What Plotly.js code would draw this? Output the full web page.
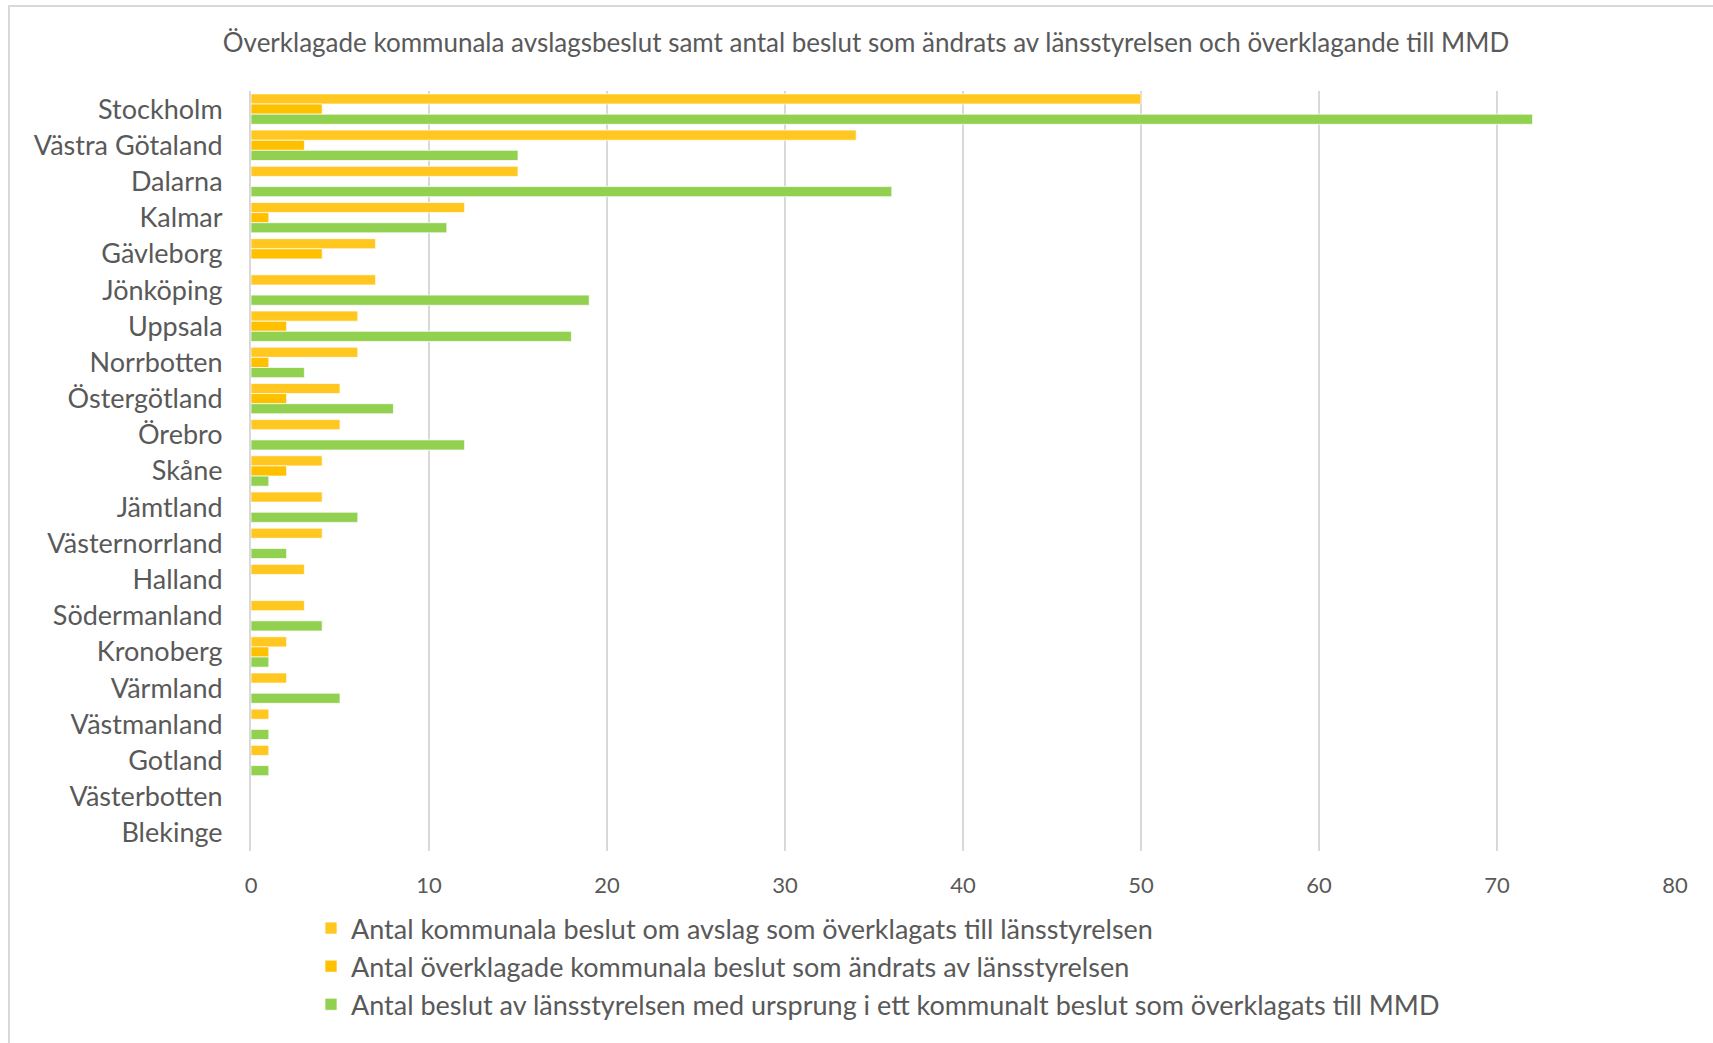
<!DOCTYPE html>
<html>
<head>
<meta charset="utf-8">
<script src="https://cdn.plot.ly/plotly-3.0.1.min.js"></script>
<style>
  html, body { margin: 0; padding: 0; background: #fff; overflow: hidden; }
  #frame { position: absolute; left: 8px; top: 5px; width: 1800px; height: 1100px; border: 2px solid #d9d9d9; box-sizing: border-box; }
  #chart { position: absolute; left: 0; top: 0; width: 1713px; height: 1043px; }
</style>
</head>
<body>
<div id="frame"></div>
<div id="chart"></div>
<script>
// lan (top to bottom as in the chart)
var lan = ["Stockholm", "Västra Götaland", "Dalarna", "Kalmar", "Gävleborg", "Jönköping",
    "Uppsala", "Norrbotten", "Östergötland", "Örebro", "Skåne", "Jämtland", "Västernorrland",
    "Halland", "Södermanland", "Kronoberg", "Värmland", "Västmanland", "Gotland",
    "Västerbotten", "Blekinge"]

var overklagade = [50, 34, 15, 12, 7, 7, 6, 6, 5, 5, 4, 4, 4, 3, 3, 2, 2, 1, 1, 0, 0]
var andrade     = [4, 3, 0, 1, 4, 0, 2, 1, 2, 0, 2, 0, 0, 0, 0, 1, 0, 0, 0, 0, 0]
var tillMMD     = [72, 15, 36, 11, 0, 19, 18, 3, 8, 12, 1, 6, 2, 0, 4, 1, 5, 1, 1, 0, 0]

var namn = [
    "Antal kommunala beslut om avslag som överklagats till länsstyrelsen",
    "Antal överklagade kommunala beslut som ändrats av länsstyrelsen",
    "Antal beslut av länsstyrelsen med ursprung i ett kommunalt beslut som överklagats till MMD"
]
var farger = ["#FFC71F", "#FFC000", "#92D050"]
var serier = [overklagade, andrade, tillMMD]

var textColor = "#595959"
var font = "Lato"

var data = serier.map(function(vals, i) {
    return {
        type: 'bar',
        orientation: 'h',
        y: lan,
        x: vals,
        name: namn[i],
        marker: {color: farger[i], line: {color: 'rgba(255,255,255,0.7)', width: 1}},
        hoverinfo: 'x+y'
    }
})

var layout = {
    width: 1713,
    height: 1043,
    paper_bgcolor: 'rgba(0,0,0,0)',
    plot_bgcolor: 'rgba(0,0,0,0)',
    margin: {l: 251, r: 38, t: 91, b: 192, autoexpand: false},
    barmode: 'group',
    bargap: 0.16,
    bargroupgap: 0,
    font: {family: font, color: textColor},
    title: {
        text: "Överklagade kommunala avslagsbeslut samt antal beslut som ändrats av länsstyrelsen och överklagande till MMD",
        font: {size: 26, color: textColor, family: font},
        x: 866 / 1713, xanchor: 'center', xref: 'container',
        y: 1 - 43 / 1043, yanchor: 'middle', yref: 'container'
    },
    xaxis: {
        range: [0, 80],
        dtick: 10,
        showgrid: true,
        gridcolor: '#d9d9d9',
        gridwidth: 1.5,
        zeroline: false,
        showline: false,
        ticks: '',
        ticklen: 0,
        tickfont: {size: 22, color: textColor},
        ticklabelstandoff: 19,
        fixedrange: true
    },
    yaxis: {
        autorange: 'reversed',
        showgrid: false,
        showline: true,
        linecolor: '#d9d9d9',
        linewidth: 2,
        ticks: '',
        tickfont: {size: 27, color: textColor},
        ticklabelstandoff: 21,
        fixedrange: true
    },
    legend: {
        orientation: 'v',
        xref: 'container', yref: 'container',
        x: 311 / 1713, xanchor: 'left',
        y: 1 - 904 / 1043, yanchor: 'top',
        font: {size: 27, color: textColor},
        tracegroupgap: 0,
        itemwidth: 30
    },
    showlegend: true
}

Plotly.newPlot('chart', data, layout, {displayModeBar: false, staticPlot: true})
</script>
</body>
</html>
